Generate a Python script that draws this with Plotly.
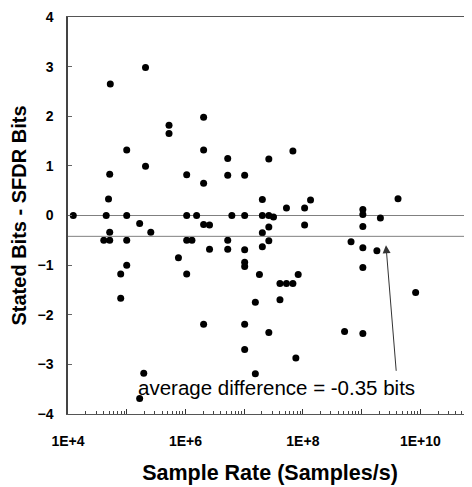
import plotly.graph_objects as go
import math

# Sample rate (Samples/s) and difference (stated bits - SFDR bits)
sample_rate = [
    1.23e4, 4.07e4, 5.13e4, 4.47e4, 5.13e4, 4.9e4, 5.13e4, 5.25e4, 7.9e4, 7.9e4,
    1.0e5, 1.0e5, 1.0e5, 1.0e5, 1.66e5, 1.66e5, 1.95e5, 2.09e5, 2.09e5, 2.57e5,
    5.25e5, 5.25e5, 7.6e5, 1.05e6, 1.05e6, 1.05e6, 1.05e6, 1.29e6, 1.55e6, 2.04e6,
    2.04e6, 2.04e6, 2.04e6, 2.04e6, 2.57e6, 2.57e6, 5.25e6, 5.25e6, 5.25e6, 5.25e6,
    6.17e6, 1.02e7, 1.02e7, 1.02e7, 1.02e7, 1.02e7, 1.02e7, 1.02e7, 1.55e7, 1.55e7,
    1.82e7, 2.04e7, 2.04e7, 2.04e7, 2.04e7, 2.63e7, 2.63e7, 2.63e7, 2.63e7, 2.63e7,
    3.16e7, 4.07e7, 4.07e7, 5.25e7, 5.25e7, 6.76e7, 6.76e7, 7.59e7, 8.32e7, 1.07e8,
    1.07e8, 1.35e8, 5.13e8, 6.61e8, 1.05e9, 1.05e9, 1.05e9, 1.05e9, 1.05e9, 1.05e9,
    1.82e9, 2.09e9, 4.17e9, 8.32e9,
]
bits_diff = [
    0, -0.5, -0.5, 0, -0.34, 0.33, 0.83, 2.65, -1.18, -1.67,
    0, 1.32, -0.5, -1.0, -0.16, -3.69, -3.18, 2.98, 0.99, -0.34,
    1.82, 1.65, -0.85, 0.82, 0, -0.5, -1.18, -0.5, 0, 1.98,
    1.32, 0.65, -0.18, -2.19, -0.19, -0.68, 1.15, 0.81, -0.5, -0.68,
    0, 0.81, 0, -0.69, -0.94, -1.03, -2.19, -2.70, -1.75, -3.19,
    -1.19, 0.32, 0, -0.35, -0.63, 1.14, 0, -0.23, -0.51, -2.36,
    -0.03, -1.37, -1.70, 0.15, -1.37, 1.30, -1.37, -2.87, -1.19, 0.15,
    -0.19, 0.31, -2.34, -0.53, 0.12, 0.02, -0.22, -0.65, -1.05, -2.38,
    -0.71, -0.05, 0.34, -1.55,
]

avg_line = -0.42
avg_label = "average difference = -0.35 bits"
arrow_tip = (2.6e9, -0.6)
arrow_tail = (3.9e9, -3.16)
label_pos = (3.5e7, -3.46)

x_tickvals = [1e4, 1e5, 1e6, 1e7, 1e8, 1e9, 1e10]
x_ticktext = ["1E+4", "", "1E+6", "", "1E+8", "", "1E+10"]
y_tickvals = [-4, -3, -2, -1, 0, 1, 2, 3, 4]
minor_vals = [m * 10 ** d for d in range(4, 11) for m in range(2, 10)]

font_family = "Liberation Sans, Arial, sans-serif"

fig = go.Figure()
fig.add_trace(go.Scatter(
    x=sample_rate, y=bits_diff, mode="markers",
    marker=dict(color="black", size=7),
    showlegend=False,
))

fig.add_shape(type="line", xref="paper", x0=0, x1=1, yref="y", y0=avg_line, y1=avg_line,
              line=dict(color="#808080", width=1))

fig.add_annotation(
    x=math.log10(arrow_tip[0]), y=arrow_tip[1],
    ax=math.log10(arrow_tail[0]), ay=arrow_tail[1], axref="x", ayref="y",
    xref="x", yref="y", text="", showarrow=True,
    arrowhead=2, arrowsize=1.6, arrowwidth=1, arrowcolor="#333333",
)
fig.add_annotation(
    x=math.log10(label_pos[0]), y=label_pos[1], xref="x", yref="y",
    text=avg_label, showarrow=False, xanchor="center", yanchor="middle",
    font=dict(family=font_family, size=20.5, color="black"),
)

fig.update_layout(
    width=464, height=479,
    margin=dict(l=60, r=0, t=9, b=73),
    paper_bgcolor="white", plot_bgcolor="white",
    font=dict(family=font_family, color="black"),
    xaxis=dict(
        type="log", range=[4, 10.88], automargin=False,
        tickmode="array", tickvals=x_tickvals, ticktext=x_ticktext,
        ticks="inside", ticklen=5, tickcolor="#333333", tickwidth=1,
        minor=dict(tickmode="array", tickvals=minor_vals, ticks="inside", ticklen=3,
                   tickcolor="#444444", tickwidth=1, showgrid=False),
        showgrid=False, zeroline=False,
        showline=True, linecolor="#555555", linewidth=1, mirror=True,
        tickfont=dict(family=font_family, size=14, color="black", weight="bold"),
        ticklabelstandoff=14,
        title=dict(text="<b>Sample Rate (Samples/s)</b>", standoff=17,
                   font=dict(family=font_family, size=21.5, color="black")),
    ),
    yaxis=dict(
        range=[-4, 4], tickmode="array", tickvals=y_tickvals, automargin=False,
        ticks="inside", ticklen=4, tickcolor="#666666", tickwidth=1,
        showgrid=False,
        zeroline=True, zerolinecolor="#808080", zerolinewidth=1,
        showline=True, linecolor="#444444", linewidth=1.5, mirror=False,
        tickfont=dict(family=font_family, size=14, color="black", weight="bold"),
        ticklabelstandoff=10,
        title=dict(text="<b>Stated Bits - SFDR Bits</b>", standoff=6,
                   font=dict(family=font_family, size=20, color="black")),
    ),
)

fig.write_html("out.html")
